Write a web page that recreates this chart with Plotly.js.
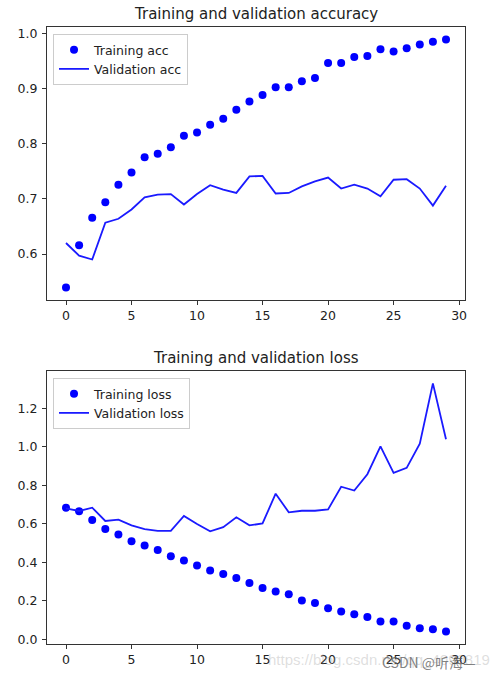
<!DOCTYPE html>
<html>
<head>
<meta charset="utf-8">
<script src="https://cdn.plot.ly/plotly-3.0.1.min.js"></script>
<style>html,body{margin:0;padding:0;background:#fff;}#chart{width:493px;height:676px;}</style>
</head>
<body>
<div id="chart"></div>
<script>
const epochs = [0,1,2,3,4,5,6,7,8,9,10,11,12,13,14,15,16,17,18,19,20,21,22,23,24,25,26,27,28,29];
const trainAcc = [0.539,0.616,0.666,0.694,0.726,0.748,0.776,0.782,0.794,0.815,0.821,0.835,0.846,0.862,0.877,0.889,0.903,0.903,0.914,0.920,0.947,0.947,0.958,0.960,0.972,0.968,0.974,0.981,0.986,0.990];
const valAcc = [0.620,0.597,0.590,0.657,0.664,0.681,0.703,0.708,0.709,0.690,0.709,0.725,0.717,0.711,0.741,0.742,0.710,0.711,0.723,0.732,0.739,0.719,0.726,0.719,0.705,0.735,0.736,0.719,0.688,0.724];
const trainLoss = [0.684,0.665,0.620,0.573,0.545,0.509,0.488,0.464,0.431,0.410,0.384,0.358,0.339,0.319,0.293,0.267,0.248,0.234,0.201,0.188,0.161,0.144,0.130,0.116,0.092,0.092,0.071,0.057,0.052,0.040];
const valLoss = [0.681,0.667,0.684,0.615,0.622,0.592,0.573,0.563,0.564,0.641,0.599,0.561,0.583,0.634,0.592,0.602,0.757,0.660,0.668,0.668,0.675,0.793,0.773,0.858,1.003,0.865,0.891,1.017,1.330,1.040];
const titles = ["Training and validation accuracy", "Training and validation loss"];
const seriesNames = ["Training acc", "Validation acc", "Training loss", "Validation loss"];

const FONT = "DejaVu Sans, sans-serif";
const traces = [
  {x: epochs, y: trainAcc, name: seriesNames[0], mode: "markers", marker: {color: "#0000ff", size: 8}, xaxis: "x", yaxis: "y", legend: "legend"},
  {x: epochs, y: valAcc, name: seriesNames[1], mode: "lines", line: {color: "#1a1aff", width: 1.8}, xaxis: "x", yaxis: "y", legend: "legend"},
  {x: epochs, y: trainLoss, name: seriesNames[2], mode: "markers", marker: {color: "#0000ff", size: 8}, xaxis: "x2", yaxis: "y2", legend: "legend2"},
  {x: epochs, y: valLoss, name: seriesNames[3], mode: "lines", line: {color: "#1a1aff", width: 1.8}, xaxis: "x2", yaxis: "y2", legend: "legend2"}
];

const axBase = {
  showgrid: false, zeroline: false, showline: true, mirror: true,
  linecolor: "#333", linewidth: 1, ticks: "outside", ticklen: 4, tickwidth: 1, tickcolor: "#333",
  tickfont: {family: FONT, size: 12.5, color: "#222"}
};
const legBase = {
  xref: "paper", yref: "paper", xanchor: "left", yanchor: "top",
  bgcolor: "rgba(255,255,255,0.8)", bordercolor: "#cccccc", borderwidth: 1,
  font: {family: FONT, size: 12.5, color: "#222"}, tracegroupgap: 0, itemwidth: 30
};
const H = 617;
const layout = {
  width: 493, height: 676,
  margin: {l: 47, r: 28, t: 27, b: 32},
  paper_bgcolor: "#fff", plot_bgcolor: "#fff",
  showlegend: true,
  xaxis: Object.assign({}, axBase, {domain: [0, 1], range: [-1.45, 30.45], dtick: 5, tick0: 0, anchor: "y"}),
  yaxis: Object.assign({}, axBase, {domain: [1 - 273 / H, 1], range: [0.5164, 1.0126], dtick: 0.1, tick0: 0, tickformat: ".1f", anchor: "x", ticklabelstandoff: 2}),
  xaxis2: Object.assign({}, axBase, {domain: [0, 1], range: [-1.45, 30.45], dtick: 5, tick0: 0, anchor: "y2"}),
  yaxis2: Object.assign({}, axBase, {domain: [0, 273 / H], range: [-0.0245, 1.3945], dtick: 0.2, tick0: 0, tickformat: ".1f", anchor: "x2", ticklabelstandoff: 2}),
  legend: Object.assign({}, legBase, {x: 0.0144, y: 1 - 7 / H}),
  legend2: Object.assign({}, legBase, {x: 0.0144, y: 273 / H - 7 / H}),
  annotations: [
    {text: titles[0], xref: "paper", yref: "paper", x: 0.5, y: 1, xanchor: "center", yanchor: "bottom", yshift: 2, showarrow: false, font: {family: FONT, size: 15, color: "#222"}},
    {text: titles[1], xref: "paper", yref: "paper", x: 0.5, y: 273 / H, xanchor: "center", yanchor: "bottom", yshift: 2, showarrow: false, font: {family: FONT, size: 15, color: "#222"}},
    {text: "https://blog.csdn.net/qq_4090819", xref: "paper", yref: "paper", x: 1.065, y: 0, xanchor: "right", yanchor: "top", yshift: -5, showarrow: false, font: {family: "Liberation Sans, sans-serif", size: 15, color: "rgba(160,160,160,0.35)"}},
    {text: "CSDN @听海—", xref: "paper", yref: "paper", x: 1.03, y: 0, xanchor: "right", yanchor: "top", yshift: -6, showarrow: false, font: {family: "Noto Sans CJK SC, sans-serif", size: 14, color: "rgba(90,90,90,0.75)"}}
  ]
};
Plotly.newPlot("chart", traces, layout, {displayModeBar: false, staticPlot: true});
</script>
</body>
</html>
